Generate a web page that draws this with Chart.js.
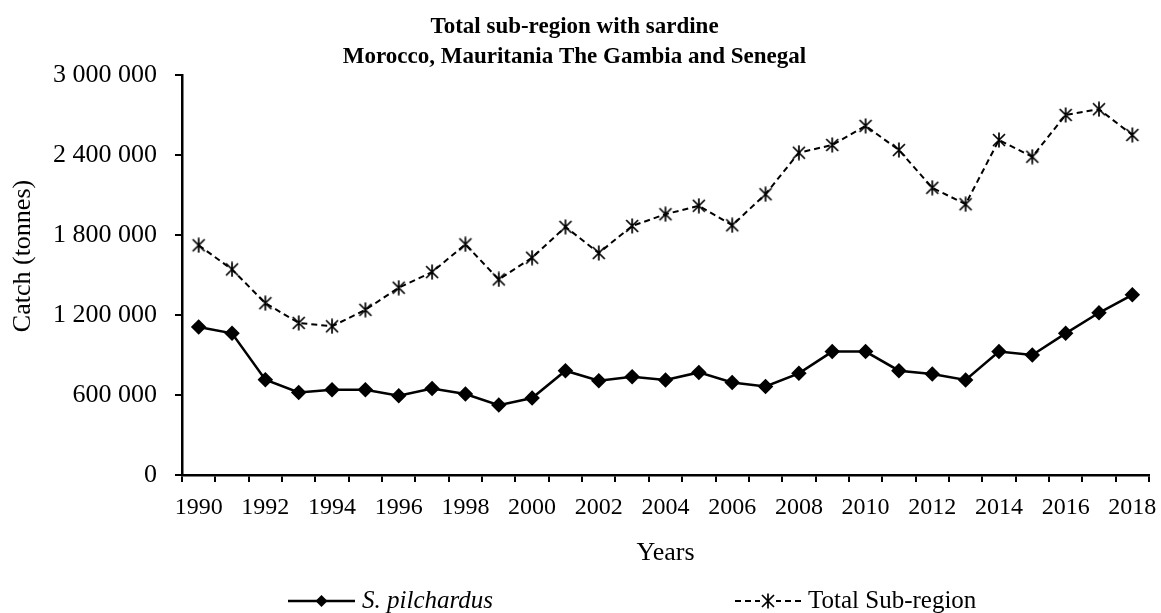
<!DOCTYPE html>
<html>
<head>
<meta charset="utf-8">
<script src="https://cdn.jsdelivr.net/npm/chart.js@4"></script>
<style>
  html, body { margin: 0; padding: 0; background: #fff; }
  #wrap { width: 1161px; height: 613px; }
</style>
</head>
<body>
<div id="wrap"><canvas id="myChart" width="1161" height="613"></canvas></div>
<script>
// Data (tonnes)
const years = [];
for (let y = 1990; y <= 2018; y++) years.push(String(y));

const sardine = [1110000, 1062000, 714000, 619000, 639000, 639000, 594000, 649000, 607000, 524000,
  577000, 782000, 707000, 737000, 712000, 769000, 694000, 664000, 762000, 925000,
  925000, 782000, 757000, 712000, 925000, 900000, 1062000, 1216000, 1351000];

const totalRegion = [1722000, 1541000, 1288000, 1140000, 1115000, 1238000, 1404000, 1521000, 1729000, 1466000,
  1629000, 1860000, 1664000, 1867000, 1955000, 2018000, 1872000, 2105000, 2416000, 2474000,
  2617000, 2436000, 2153000, 2030000, 2511000, 2386000, 2699000, 2742000, 2549000];

const yTicks = [0, 600000, 1200000, 1800000, 2400000, 3000000];
const seriesNames = ['S. pilchardus', 'Total Sub-region'];
const yTitle = 'Catch (tonnes)';

const FONT = "'Liberation Serif', 'Times New Roman', serif";

// Asterisk marker (x with a vertical bar), like the Excel star
function makeStar(size) {
  const c = document.createElement('canvas');
  c.width = size; c.height = size;
  const g = c.getContext('2d');
  g.strokeStyle = '#000';
  g.lineWidth = 1.7;
  const m = 2;
  g.beginPath();
  g.moveTo(m, m); g.lineTo(size - m, size - m);
  g.moveTo(size - m, m); g.lineTo(m, size - m);
  g.moveTo(size / 2, 0.5); g.lineTo(size / 2, size - 0.5);
  g.stroke();
  return c;
}
const starImg = makeStar(16);

function fmt(v) {
  return String(v).replace(/\B(?=(\d{3})+(?!\d))/g, ' ');
}

// y axis title, drawn by hand so it sits where the original has it
const yTitlePlugin = {
  id: 'yTitlePlugin',
  afterDraw(chart) {
    const ctx = chart.ctx;
    ctx.save();
    ctx.translate(23, 256);
    ctx.rotate(-Math.PI / 2);
    ctx.fillStyle = '#000';
    ctx.font = '26px ' + FONT;
    ctx.textAlign = 'center';
    ctx.textBaseline = 'middle';
    ctx.fillText(yTitle, 0, 0);
    ctx.restore();
  }
};

// Legend drawn under the chart: line + marker + text
const bottomLegend = {
  id: 'bottomLegend',
  afterDraw(chart) {
    const ctx = chart.ctx;
    const y = 601;
    const items = [
      { x0: 288, x1: 355, ds: chart.data.datasets[0], italic: true },
      { x0: 735, x1: 801, ds: chart.data.datasets[1], italic: false }
    ];
    ctx.save();
    items.forEach(it => {
      ctx.strokeStyle = '#000';
      ctx.lineWidth = it.ds.borderWidth;
      ctx.setLineDash(it.ds.borderDash || []);
      ctx.beginPath();
      ctx.moveTo(it.x0, y);
      ctx.lineTo(it.x1, y);
      ctx.stroke();
      ctx.setLineDash([]);
      const mx = (it.x0 + it.x1) / 2;
      if (it.ds.pointStyle === 'rectRot') {
        ctx.fillStyle = '#000';
        ctx.beginPath();
        ctx.moveTo(mx, y - 6); ctx.lineTo(mx + 6, y); ctx.lineTo(mx, y + 6); ctx.lineTo(mx - 6, y);
        ctx.closePath();
        ctx.fill();
      } else {
        ctx.fillStyle = '#fff';
        ctx.fillRect(mx - 8, y - 8, 16, 16);
        ctx.drawImage(starImg, mx - 8, y - 8);
      }
      ctx.fillStyle = '#000';
      ctx.font = (it.italic ? 'italic ' : '') + '25px ' + FONT;
      ctx.textBaseline = 'middle';
      ctx.textAlign = 'left';
      ctx.fillText(it.ds.label, it.x1 + 7, y);
    });
    ctx.restore();
  }
};

const ctx = document.getElementById('myChart');

const myChart = new Chart(ctx, {
  type: 'line',
  data: {
    labels: years,
    datasets: [{
      label: seriesNames[0],
      data: sardine,
      borderColor: '#000',
      backgroundColor: '#000',
      borderWidth: 2.5,
      pointStyle: 'rectRot',
      pointRadius: 6,
      pointBackgroundColor: '#000',
      pointBorderColor: '#000',
      tension: 0
    }, {
      label: seriesNames[1],
      data: totalRegion,
      borderColor: '#000',
      backgroundColor: '#000',
      borderWidth: 2,
      borderDash: [6, 4],
      pointStyle: starImg,
      tension: 0
    }]
  },
  plugins: [bottomLegend, yTitlePlugin],
  options: {
    responsive: false,
    animation: false,
    devicePixelRatio: 1,
    layout: { padding: { left: 0, right: 12, top: 0, bottom: 37 } },
    plugins: {
      legend: { display: false },
      tooltip: { enabled: false },
      title: {
        display: true,
        text: ['Total sub-region with sardine', 'Morocco, Mauritania The Gambia and Senegal'],
        color: '#000',
        font: { family: FONT, size: 23, weight: 'bold', lineHeight: 1.3 },
        padding: { top: 12, bottom: 3 }
      }
    },
    scales: {
      x: {
        type: 'category',
        offset: true,
        afterFit: function (scale) { scale.paddingLeft = 0; scale.paddingRight = 0; },
        border: { display: true, color: '#000', width: 2.5 },
        grid: { display: true, offset: true, drawOnChartArea: false, drawTicks: true, tickLength: 7, color: '#000', lineWidth: 2 },
        ticks: {
          autoSkip: false,
          maxRotation: 0,
          color: '#000',
          padding: 11,
          font: { family: FONT, size: 24 },
          callback: function (v, i) { return i % 2 === 0 ? years[i] : ''; }
        },
        title: {
          display: true,
          text: 'Years',
          color: '#000',
          font: { family: FONT, size: 26 },
          padding: { top: 5, bottom: 7 }
        }
      },
      y: {
        min: 0,
        max: 3000000,
        afterFit: function (scale) { scale.width = 182; },
        border: { display: true, color: '#000', width: 2.5 },
        grid: { display: true, drawOnChartArea: false, drawTicks: true, tickLength: 7, color: '#000', lineWidth: 2 },
        afterBuildTicks: function (axis) { axis.ticks = yTicks.map(v => ({ value: v })); },
        ticks: {
          color: '#000',
          padding: 18,
          font: { family: FONT, size: 26 },
          callback: function (v) { return fmt(v); }
        }
      }
    }
  }
});
</script>
</body>
</html>
